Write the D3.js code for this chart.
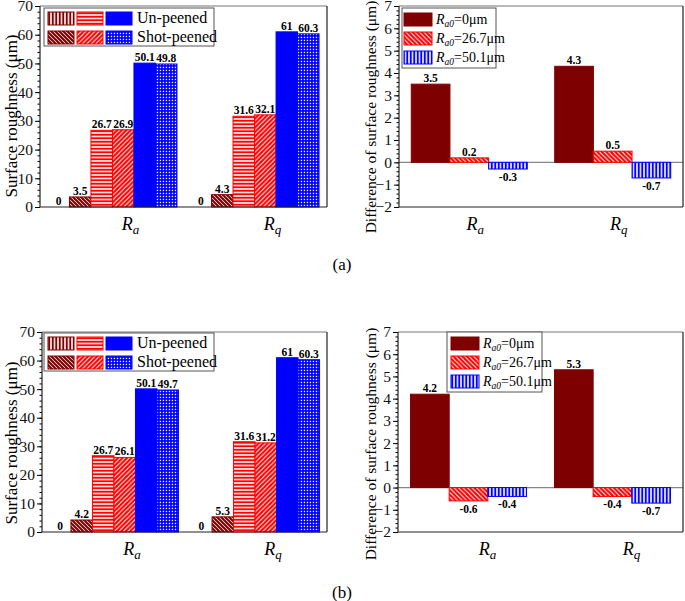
<!DOCTYPE html>
<html>
<head>
<meta charset="utf-8">
<script src="https://cdn.jsdelivr.net/npm/d3@7"></script>
<style>
  body { margin: 0; background: #fff; }
  svg text { font-family: "Liberation Serif", "Times New Roman", serif; }
</style>
</head>
<body>
<svg id="chart" width="685" height="601"></svg>
<script>
// categories and series
const categories = ['Ra', 'Rq'];
const roughSeries = ['un0', 'shot0', 'un26', 'shot26', 'un50', 'shot50'];
const diffSeries = ['0', '26.7', '50.1'];

// panel (a)
const roughA_Ra = [0, 3.5, 26.7, 26.9, 50.1, 49.8];
const roughA_Rq = [0, 4.3, 31.6, 32.1, 61, 60.3];
const diffA_Ra = [3.5, 0.2, -0.3];
const diffA_Rq = [4.3, 0.5, -0.7];

// panel (b)
const roughB_Ra = [0, 4.2, 26.7, 26.1, 50.1, 49.7];
const roughB_Rq = [0, 5.3, 31.6, 31.2, 61, 60.3];
const diffB_Ra = [4.2, -0.6, -0.4];
const diffB_Rq = [5.3, -0.4, -0.7];

// ticks
const roughTicks = [0, 10, 20, 30, 40, 50, 60, 70];
const diffTicks = [-2, -1, 0, 1, 2, 3, 4, 5, 6, 7];

const DARK = '#7f0000', RED = '#ff0000', BLUE = '#0000ff';

const svg = d3.select('#chart');
const defs = svg.append('defs');

// hatch patterns
function stripePattern(id, color, size, path, width) {
  const p = defs.append('pattern')
      .attr('id', id)
      .attr('patternUnits', 'userSpaceOnUse')
      .attr('width', size).attr('height', size);
  p.append('rect').attr('width', size).attr('height', size).attr('fill', '#fff');
  p.append('path').attr('d', path).attr('stroke', color).attr('stroke-width', width);
}
stripePattern('vDark', DARK, 3.5, 'M1.75,0V3.5', 2);
stripePattern('dDark', DARK, 4, 'M0,0L4,4M-1,3L1,5M3,-1L5,1', 2.2);
stripePattern('hRed', RED, 3.5, 'M0,1.75H3.5', 2);
stripePattern('fRed', RED, 4.5, 'M0,4.5L4.5,0M-1,1L1,-1M3.5,5.5L5.5,3.5', 2.2);
stripePattern('bRed', RED, 4.5, 'M0,0L4.5,4.5M-1,3.5L1,5.5M3.5,-1L5.5,1', 2.2);
stripePattern('vBlue', BLUE, 3.5, 'M1.75,0V3.5', 2);
const dots = defs.append('pattern')
    .attr('id', 'dBlue')
    .attr('patternUnits', 'userSpaceOnUse')
    .attr('width', 3).attr('height', 3);
dots.append('rect').attr('width', 3).attr('height', 3).attr('fill', BLUE);
dots.append('rect').attr('x', 0.8).attr('y', 0.8).attr('width', 1.3).attr('height', 1.3).attr('fill', '#fff');

const roughFill = ['url(#vDark)', 'url(#dDark)', 'url(#hRed)', 'url(#fRed)', BLUE, 'url(#dBlue)'];
const roughStroke = [DARK, DARK, RED, RED, BLUE, BLUE];
const diffFill = [DARK, 'url(#bRed)', 'url(#vBlue)'];
const diffStroke = [DARK, RED, BLUE];

function drawYAxis(g, y, ticks, minorStep, left) {
  const [d0, d1] = y.domain();
  const minors = d3.range(d0, d1 + 1e-9, minorStep);
  g.append('g')
      .attr('transform', `translate(${left},0)`)
      .call(d3.axisLeft(y).tickValues(minors).tickSize(2.5).tickFormat(''))
      .call(a => a.select('.domain').remove());
  g.append('g')
      .attr('transform', `translate(${left},0)`)
      .call(d3.axisLeft(y).tickValues(ticks).tickSize(5).tickPadding(2).tickFormat(d3.format('d')))
      .call(a => a.select('.domain').remove())
      .call(a => a.selectAll('text')
          .style('font-family', '"Liberation Serif", "Times New Roman", serif')
          .style('font-size', '15.5px')
          .attr('fill', '#111'));
}

function drawFrame(g, f) {
  g.append('line').attr('x1', f.x0).attr('x2', f.x1).attr('y1', f.y0).attr('y2', f.y0)
      .attr('stroke', '#777').attr('stroke-width', 1.2);
  g.append('line').attr('x1', f.x1).attr('x2', f.x1).attr('y1', f.y0).attr('y2', f.y1)
      .attr('stroke', '#222').attr('stroke-width', 1.2);
  g.append('line').attr('x1', f.x0).attr('x2', f.x1).attr('y1', f.y1).attr('y2', f.y1)
      .attr('stroke', '#222').attr('stroke-width', 1.2);
  g.append('line').attr('x1', f.x0).attr('x2', f.x0).attr('y1', f.y0).attr('y2', f.y1)
      .attr('stroke', '#222').attr('stroke-width', 1.2);
}

function catLabels(g, x, f, offset) {
  categories.forEach(c => {
    const t = g.append('text')
        .attr('x', x(c) + offset)
        .attr('y', f.y1 + 23)
        .attr('text-anchor', 'middle')
        .attr('font-size', 18)
        .attr('font-style', 'italic');
    t.append('tspan').text(c[0]);
    t.append('tspan').attr('font-size', 13).attr('dy', 4).text(c[1]);
  });
}

function barLabel(g, xc, yTop, yBot, v) {
  g.append('text')
      .attr('x', xc)
      .attr('y', v < 0 ? yBot + 12 : yTop - 2)
      .attr('text-anchor', 'middle')
      .style('font-family', '"Liberation Serif", "Times New Roman", serif')
      .style('font-size', '11.5px')
      .attr('font-weight', 'bold')
      .text(v);
}

function drawRough(f, dataRa, dataRq, legendY) {
  const g = svg.append('g');
  const x = d3.scalePoint().domain(categories).range([f.x0, f.x1]).padding(0.51);
  const inner = d3.scaleBand().domain(roughSeries).range([-64.5, 64.5]);
  const y = d3.scaleLinear().domain([0, 70]).range([f.y1, f.y0]);

  drawYAxis(g, y, roughTicks, 2, f.x0);

  [dataRa, dataRq].forEach((vals, gi) => {
    const cx = x(categories[gi]);
    vals.forEach((v, i) => {
      const bx = cx + inner(roughSeries[i]);
      const top = y(v);
      if (v > 0) {
        g.append('rect')
            .attr('x', bx).attr('y', top)
            .attr('width', inner.bandwidth()).attr('height', y(0) - top)
            .attr('fill', roughFill[i]).attr('stroke', roughStroke[i]).attr('stroke-width', 1);
      }
      barLabel(g, bx + inner.bandwidth() / 2, top, y(0), v);
    });
  });

  drawFrame(g, f);
  catLabels(g, x, f, 18);

  // legend
  const lg = g.append('g').attr('transform', `translate(44,${legendY})`);
  lg.append('rect').attr('width', 170).attr('height', 38)
      .attr('fill', '#fff').attr('stroke', '#555').attr('stroke-width', 1);
  const cols = [4, 33, 62];
  [[0, 2, 4], [1, 3, 5]].forEach((row, r) => {
    row.forEach((si, c) => {
      lg.append('rect')
          .attr('x', cols[c]).attr('y', 4 + r * 19)
          .attr('width', 26).attr('height', 13)
          .attr('fill', roughFill[si]).attr('stroke', roughStroke[si]).attr('stroke-width', 1);
    });
    lg.append('text')
        .attr('x', 93).attr('y', 15 + r * 19)
        .attr('font-size', 16)
        .text(r === 0 ? 'Un-peened' : 'Shot-peened');
  });
}

function drawDiff(f, dataRa, dataRq, legend, labelOffset) {
  const g = svg.append('g');
  const x = d3.scalePoint().domain(categories).range([f.x0, f.x1]).padding(0.49);
  const inner = d3.scaleBand().domain(diffSeries).range([-58, 58]);
  const y = d3.scaleLinear().domain([-2, 7]).range([f.y1, f.y0]);

  drawYAxis(g, y, diffTicks, 0.2, f.x0);

  g.append('line')
      .attr('x1', f.x0).attr('x2', f.x1)
      .attr('y1', y(0)).attr('y2', y(0))
      .attr('stroke', '#888').attr('stroke-width', 1.2);

  [dataRa, dataRq].forEach((vals, gi) => {
    const cx = x(categories[gi]);
    vals.forEach((v, i) => {
      const bx = cx + inner(diffSeries[i]);
      const top = y(Math.max(v, 0));
      const bot = y(Math.min(v, 0));
      g.append('rect')
          .attr('x', bx).attr('y', top)
          .attr('width', inner.bandwidth()).attr('height', bot - top)
          .attr('fill', diffFill[i]).attr('stroke', diffStroke[i]).attr('stroke-width', 1);
      barLabel(g, bx + inner.bandwidth() / 2, top, bot, v);
    });
  });

  drawFrame(g, f);
  catLabels(g, x, f, labelOffset);

  const lg = g.append('g').attr('transform', `translate(${legend.x},${legend.y})`);
  lg.append('rect').attr('width', legend.w).attr('height', 60)
      .attr('fill', '#fff').attr('stroke', '#555').attr('stroke-width', 1);
  diffSeries.forEach((s, i) => {
    lg.append('rect')
        .attr('x', legend.sx).attr('y', 5 + i * 19)
        .attr('width', 28).attr('height', 13)
        .attr('fill', diffFill[i]).attr('stroke', diffStroke[i]).attr('stroke-width', 1);
    const t = lg.append('text')
        .attr('x', legend.sx + 32).attr('y', 16 + i * 19)
        .attr('font-size', 14);
    t.append('tspan').attr('font-style', 'italic').text('R');
    t.append('tspan').attr('font-style', 'italic').attr('font-size', 9.5).attr('dy', 3).text('a0');
    t.append('tspan').attr('dy', -3).text('=' + s + 'μm');
  });
}

function yTitle(x, yc, text, size) {
  svg.append('text')
      .attr('transform', `translate(${x},${yc}) rotate(-90)`)
      .attr('text-anchor', 'middle')
      .attr('font-size', size)
      .text(text);
}

// panel (a)
drawRough({x0: 40, x1: 327, y0: 6, y1: 207}, roughA_Ra, roughA_Rq, 8);
drawDiff({x0: 399, x1: 683, y0: 6, y1: 207}, diffA_Ra, diffA_Rq, {x: 402, y: 8, w: 94, sx: 2}, 6);
yTitle(17, 116, 'Surface roughness (μm)', 17);
yTitle(376, 117, 'Difference of surface roughness (μm)', 15.5);
svg.append('text').attr('x', 342).attr('y', 270).attr('text-anchor', 'middle').attr('font-size', 17).text('(a)');

// panel (b)
drawRough({x0: 42, x1: 327, y0: 332, y1: 532}, roughB_Ra, roughB_Rq, 333);
drawDiff({x0: 398, x1: 683, y0: 332, y1: 532}, diffB_Ra, diffB_Rq, {x: 447, y: 332, w: 95, sx: 4}, 19);
yTitle(17, 443, 'Surface roughness (μm)', 17);
yTitle(376, 444, 'Difference of surface roughness (μm)', 15.5);
svg.append('text').attr('x', 342).attr('y', 598).attr('text-anchor', 'middle').attr('font-size', 17).text('(b)');
</script>
</body>
</html>
